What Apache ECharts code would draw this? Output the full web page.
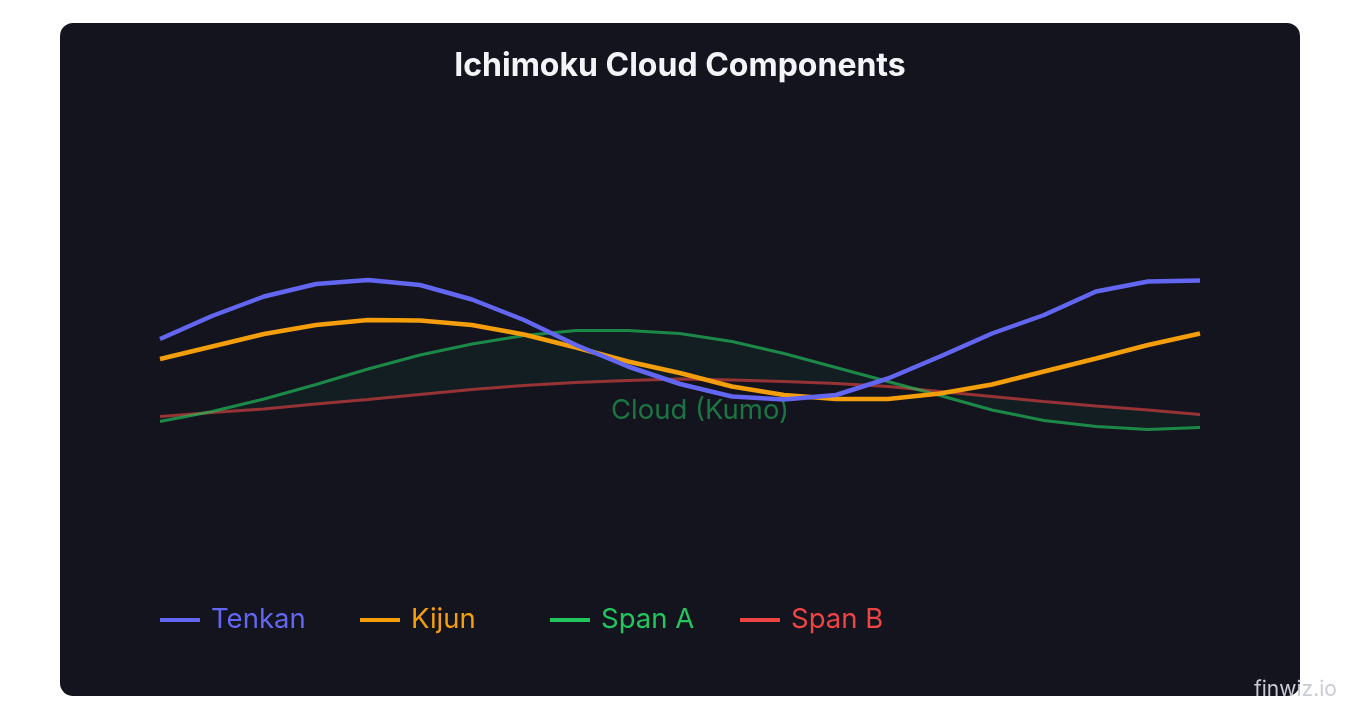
<!DOCTYPE html>
<html>
<head>
<meta charset="utf-8">
<script src="https://cdn.jsdelivr.net/npm/echarts@6/dist/echarts.min.js"></script>
<style>
  html, body { margin: 0; padding: 0; background: #ffffff; width: 1360px; height: 720px; overflow: hidden; }
  #card { position: absolute; left: 60px; top: 23px; width: 1240px; height: 673px; background: #13141e; border-radius: 13px; }
  #chart { position: absolute; left: 0; top: 0; width: 1360px; height: 720px; }
</style>
</head>
<body>
<div id="card"></div>
<div id="chart"></div>
<script>
const categories = ['1','2','3','4','5','6','7','8','9','10','11','12','13','14','15','16','17','18','19','20','21'];
const tenkan = [56.2, 60.8, 64.7, 67.2, 68.0, 67.0, 64.1, 60.0, 55.0, 50.7, 47.2, 44.7, 44.1, 45.0, 48.3, 52.7, 57.3, 61.0, 65.7, 67.7, 67.9];
const kijun  = [52.2, 54.7, 57.2, 59.0, 60.0, 59.9, 59.0, 57.1, 54.5, 51.7, 49.4, 46.7, 45.0, 44.2, 44.2, 45.3, 47.1, 49.7, 52.3, 55.0, 57.3];
const spanA  = [39.7, 41.7, 44.2, 47.1, 50.2, 53.0, 55.2, 56.9, 57.9, 57.9, 57.3, 55.7, 53.3, 50.5, 47.7, 44.9, 42.0, 39.9, 38.7, 38.1, 38.5];
const spanB  = [40.7, 41.5, 42.2, 43.2, 44.1, 45.1, 46.1, 46.9, 47.5, 47.9, 48.2, 48.0, 47.7, 47.3, 46.7, 45.7, 44.7, 43.7, 42.8, 42.0, 41.1];
const seriesNames = ['Tenkan', 'Kijun', 'Span A', 'Span B'];
const colors = ['#6366f1', '#f59e0b', '#22c55e', '#ef4444'];
const legendLefts = [160, 360, 550, 740];

const FONT = 'Inter, "Noto Sans", sans-serif';
const chart = echarts.init(document.getElementById('chart'), null, { renderer: 'canvas' });

const legends = seriesNames.map((n, i) => ({
  data: [{ name: n, itemStyle: { color: colors[i], opacity: 1 }, textStyle: { color: colors[i] } }],
  left: legendLefts[i],
  top: 606,
  padding: 0,
  icon: 'rect',
  itemWidth: 40,
  itemHeight: 4,
  selectedMode: false,
  textStyle: { fontFamily: FONT, fontSize: 27.5, color: colors[i], padding: [0, 0, 0, 6] }
}));

const option = {
  backgroundColor: 'transparent',
  animation: false,
  title: {
    text: 'Ichimoku Cloud Components',
    left: 'center',
    top: 45,
    textStyle: { color: '#f3f4f8', fontFamily: FONT, fontWeight: 'bold', fontSize: 32 }
  },
  legend: legends,
  grid: { left: 160, right: 160, top: 120, bottom: 100 },
  xAxis: {
    type: 'category', data: categories, boundaryGap: false, show: false
  },
  yAxis: { type: 'value', min: 0, max: 100, show: false },
  graphic: [
    {
      type: 'text', left: 1254, top: 679,
      style: { text: 'finwiz.io', fill: '#c9cbd4', font: '21px ' + FONT }
    }
  ],
  series: [
    {
      type: 'custom',
      name: 'cloud',
      silent: true,
      z: 1,
      data: [0],
      renderItem: function (params, api) {
        const pts = [];
        for (let i = 0; i < spanA.length; i++) pts.push(api.coord([i, spanA[i]]));
        for (let i = spanB.length - 1; i >= 0; i--) pts.push(api.coord([i, spanB[i]]));
        const mid = api.coord([10, 42.0]);
        return {
          type: 'group',
          children: [
            { type: 'polygon', shape: { points: pts }, style: { fill: 'rgba(34,197,94,0.06)', stroke: null } },
            { type: 'text', x: mid[0] + 20, y: mid[1] + 1, style: { text: 'Cloud (Kumo)', fill: 'rgba(34,197,94,0.55)', font: '27.5px ' + FONT, align: 'center', verticalAlign: 'middle' } }
          ]
        };
      }
    },
    {
      name: 'Span B', type: 'line', data: spanB, symbol: 'none', z: 2,
      color: colors[3],
      lineStyle: { width: 3, color: colors[3], opacity: 0.6 }
    },
    {
      name: 'Span A', type: 'line', data: spanA, symbol: 'none', z: 3,
      color: colors[2],
      lineStyle: { width: 3, color: colors[2], opacity: 0.65 }
    },
    {
      name: 'Kijun', type: 'line', data: kijun, symbol: 'none', z: 4,
      color: colors[1],
      lineStyle: { width: 4.5, color: colors[1] }
    },
    {
      name: 'Tenkan', type: 'line', data: tenkan, symbol: 'none', z: 5,
      color: colors[0],
      lineStyle: { width: 4.5, color: colors[0] }
    }
  ]
};
chart.setOption(option);
</script>
</body>
</html>
